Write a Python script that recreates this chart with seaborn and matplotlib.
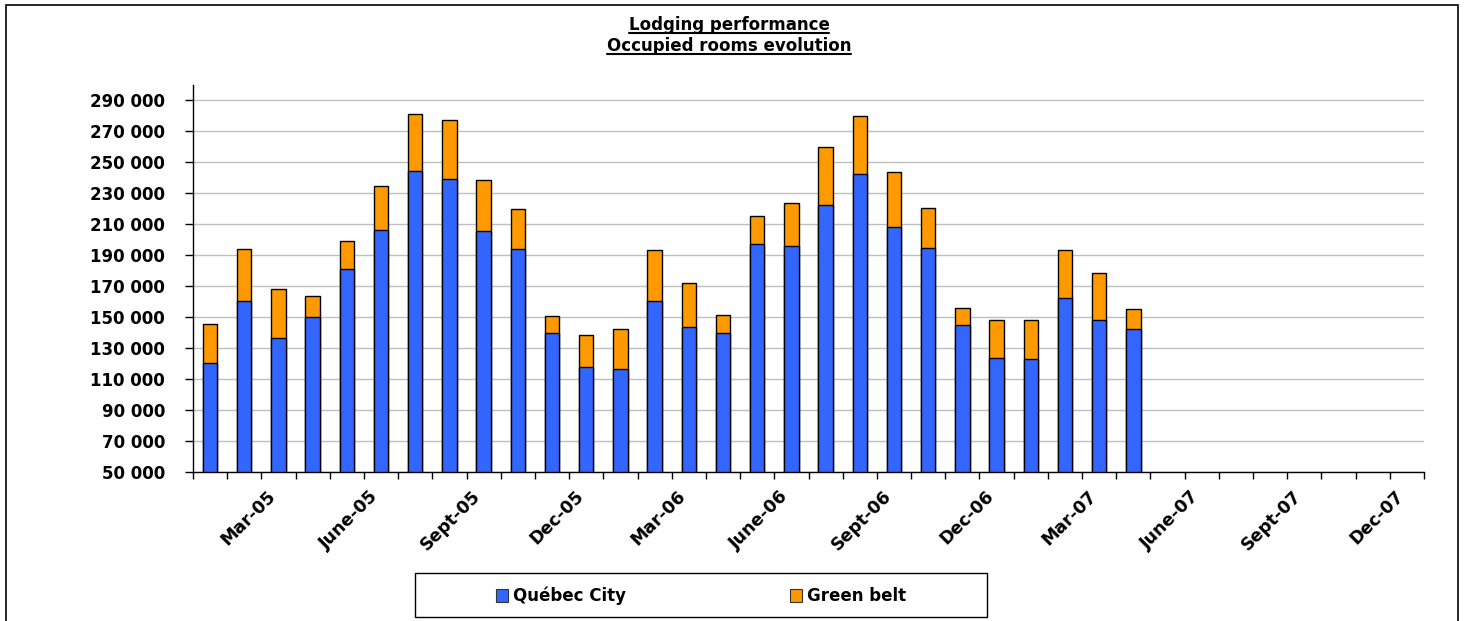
import matplotlib
matplotlib.use("Agg")
import matplotlib.pyplot as plt
from matplotlib.patches import Patch, Rectangle
from matplotlib.lines import Line2D
from matplotlib.ticker import FuncFormatter, FixedLocator
import pandas as pd
import seaborn as sns

# monthly occupied rooms, Jan-05 .. Apr-07 (axis runs to Dec-07)
month_names = ["Jan", "Feb", "Mar", "Apr", "May", "June",
               "July", "Aug", "Sept", "Oct", "Nov", "Dec"]
years = ["05", "06", "07"]
quebec_city = [120600, 160600, 136700, 150300, 181200, 206400, 244200, 239500,
               205700, 193900, 140100, 117800, 116700, 160600, 143800, 140100,
               197600, 196300, 222700, 242500, 208500, 194800, 145100, 123800,
               122900, 162500, 148500, 142100]
green_belt = [25100, 33300, 31200, 13100, 18300, 28600, 37000, 38000,
              32700, 25800, 10400, 20400, 25600, 32700, 28400, 11000,
              18000, 27700, 37200, 37600, 35100, 25500, 10700, 24700,
              25600, 30800, 30100, 13300]
tick_labels = ["Mar-05", "June-05", "Sept-05", "Dec-05",
               "Mar-06", "June-06", "Sept-06", "Dec-06",
               "Mar-07", "June-07", "Sept-07", "Dec-07"]

months = [f"{m}-{y}" for y in years for m in month_names]
df = pd.DataFrame({
    "month": months[:len(quebec_city)],
    "quebec": quebec_city,
    "green": green_belt,
})
df["total"] = df["quebec"] + df["green"]

BLUE = "#3366FF"
ORANGE = "#FF9900"
W, H = 1464, 621

sns.set_style("white")
plt.rcParams["font.family"] = ["DejaVu Sans"]
plt.rcParams["font.weight"] = "bold"
plt.rcParams["text.color"] = "black"
plt.rcParams["xtick.color"] = "black"
plt.rcParams["ytick.color"] = "black"
plt.rcParams["axes.edgecolor"] = "black"

fig = plt.figure(figsize=(W / 100, H / 100), dpi=100)
ax = fig.add_axes([193 / W, 1 - 472 / H, (1424 - 193) / W, (472 - 85) / H])

# stacked: full height in orange, Québec City on top of it from the base
sns.barplot(data=df, x="month", y="total", order=months, color=ORANGE,
            width=0.42, edgecolor="black", linewidth=1, saturation=1, ax=ax)
sns.barplot(data=df, x="month", y="quebec", order=months, color=BLUE,
            width=0.42, edgecolor="black", linewidth=1, saturation=1, ax=ax)

ax.set_ylim(50000, 300000)
ax.set_xlim(-0.5, len(months) - 0.5)
ax.set_yticks(range(50000, 300000, 20000))
ax.yaxis.set_major_formatter(FuncFormatter(lambda v, p: f"{int(v):,}".replace(",", " ")))
ax.yaxis.grid(True, color="#C0C0C0", linewidth=1)
ax.set_axisbelow(True)

# tick marks between months, labels on every third month
ax.xaxis.set_major_locator(FixedLocator([i - 0.5 for i in range(len(months) + 1)]))
ax.xaxis.set_major_formatter(FuncFormatter(lambda v, p: ""))
# label anchor nudged slightly left of the bar centre, as in the original
label_pos = [months.index(t) - 0.35 for t in tick_labels]
ax.xaxis.set_minor_locator(FixedLocator(label_pos))
ax.set_xticklabels(tick_labels, minor=True, rotation=45, ha="right",
                   rotation_mode="anchor", fontsize=12.5, fontweight="bold",
                   color="black")
ax.tick_params(axis="x", which="major", direction="out", length=5, width=1,
               color="black", bottom=True)
ax.tick_params(axis="x", which="minor", length=0, pad=11)
ax.tick_params(axis="y", direction="out", length=6, width=1, color="black",
               left=True, pad=14, labelsize=12, labelcolor="black")
for lab in ax.get_yticklabels():
    lab.set_fontweight("bold")

ax.set_xlabel("")
ax.set_ylabel("")
for s in ["top", "right"]:
    ax.spines[s].set_visible(False)
for s in ["left", "bottom"]:
    ax.spines[s].set_color("black")
    ax.spines[s].set_linewidth(1)

# title with underline
t1 = fig.text(729 / W, 1 - 25 / H, "Lodging performance", ha="center", va="center",
              fontsize=12, fontweight="bold", color="black")
t2 = fig.text(729 / W, 1 - 46 / H, "Occupied rooms evolution", ha="center", va="center",
              fontsize=12, fontweight="bold", color="black")
fig.canvas.draw()
renderer = fig.canvas.get_renderer()
for t in (t1, t2):
    bb = t.get_window_extent(renderer)
    y = (bb.y0 + 1) / H
    fig.add_artist(Line2D([bb.x0 / W, bb.x1 / W], [y, y], color="black",
                          linewidth=1.5, transform=fig.transFigure))

# legend box
fig.add_artist(Rectangle((415 / W, 1 - 617 / H), (987 - 415) / W, 44 / H,
                         transform=fig.transFigure, fill=False,
                         edgecolor="black", linewidth=1))
handles = [Patch(facecolor=BLUE, edgecolor="#333333", linewidth=0.8, label="Québec City"),
           Patch(facecolor=ORANGE, edgecolor="#333333", linewidth=0.8, label="Green belt")]
leg = fig.legend(handles=handles, loc="center", bbox_to_anchor=(701 / W, 1 - 596 / H),
                 ncol=2, frameon=False, handlelength=0.75, handleheight=0.75,
                 handletextpad=0.3, columnspacing=9.8,
                 prop={"size": 12, "weight": "bold"})
for txt in leg.get_texts():
    txt.set_color("black")

# outer border
fig.add_artist(Rectangle((6 / W, -0.05), (1458 - 6) / W, 1.05 - 5 / H,
                         transform=fig.transFigure, fill=False,
                         edgecolor="black", linewidth=1.2))

fig.savefig("out.png", dpi=100)
